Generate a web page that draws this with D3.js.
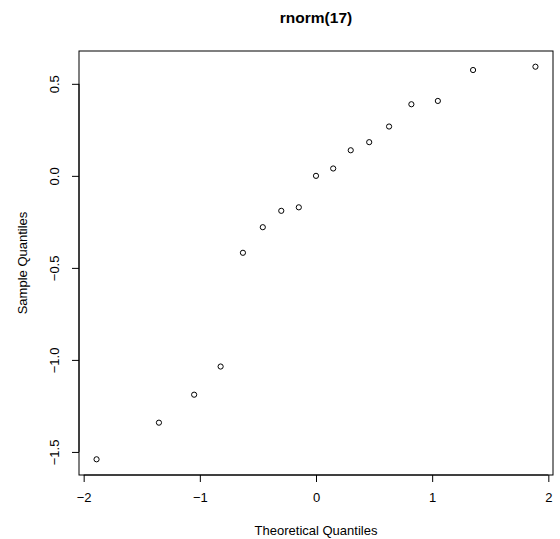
<!DOCTYPE html>
<html>
<head>
<meta charset="utf-8">
<script src="https://cdn.jsdelivr.net/npm/d3@7"></script>
<style>
  body { margin: 0; background: #fff; }
  text { font-family: "Liberation Sans", Arial, sans-serif; fill: #000; }
</style>
</head>
<body>
<div id="chart"></div>
<script>
// theoretical quantiles (x) and sorted sample values (y)
var theoretical = [-1.889, -1.352, -1.049, -0.821, -0.629, -0.458, -0.299, -0.148, 0,
                   0.148, 0.299, 0.458, 0.629, 0.821, 1.049, 1.352, 1.889];
var sample = [-1.540, -1.341, -1.189, -1.036, -0.418, -0.279, -0.190, -0.171, 0.000,
              0.040, 0.139, 0.183, 0.268, 0.389, 0.407, 0.575, 0.593];
var xTicks = [-2, -1, 0, 1, 2];
var yTicks = [-1.5, -1.0, -0.5, 0.0, 0.5];

var svgWidth = 560;
var svgHeight = 539;

var margin = {top: 51, right: 7, bottom: 64, left: 79};

var width = svgWidth - margin.left - margin.right;
var height = svgHeight - margin.top - margin.bottom;

var svg = d3.select("#chart")
  .append("svg")
  .attr("width", svgWidth)
  .attr("height", svgHeight);

var chartGroup = svg.append("g")
  .attr("transform", `translate(${margin.left}, ${margin.top})`);

// R style 4% extension of the data range
function extendRange(vals) {
  var lo = d3.min(vals), hi = d3.max(vals);
  var pad = (hi - lo) * 0.04;
  return [lo - pad, hi + pad];
}

var xScale = d3.scaleLinear()
  .domain(extendRange(theoretical))
  .range([0, width]);

var yScale = d3.scaleLinear()
  .domain(extendRange(sample))
  .range([height, 0]);

// axes
var bottomAxis = d3.axisBottom(xScale)
  .tickValues(xTicks)
  .tickSize(7)
  .tickPadding(11)
  .tickFormat(d => d < 0 ? "\u2212" + Math.abs(d) : d);

var leftAxis = d3.axisLeft(yScale)
  .tickValues(yTicks)
  .tickSize(7)
  .tickFormat(d => (d < 0 ? "\u2212" : "") + Math.abs(d).toFixed(1));

var xAxis = chartGroup.append("g")
  .attr("transform", `translate(0, ${height})`)
  .call(bottomAxis);

xAxis.select(".domain")
  .attr("d", `M${xScale(xTicks[0])},0H${xScale(xTicks[xTicks.length - 1])}`);

var yAxis = chartGroup.append("g")
  .call(leftAxis);

yAxis.select(".domain")
  .attr("d", `M0,${yScale(yTicks[0])}V${yScale(yTicks[yTicks.length - 1])}`);

chartGroup.selectAll(".tick line").attr("stroke", "#000");
chartGroup.selectAll(".tick text")
  .attr("font-size", "13px")
  .attr("font-family", "Liberation Sans, Arial, sans-serif");

// rotate the y tick labels like R does (las = 0)
yAxis.selectAll(".tick text")
  .attr("text-anchor", "middle")
  .attr("x", 0)
  .attr("dy", 0)
  .attr("transform", "translate(-20, 0) rotate(-90)")
  .attr("dominant-baseline", "auto");

// plot box
chartGroup.append("rect")
  .attr("x", 0)
  .attr("y", 0)
  .attr("width", width)
  .attr("height", height)
  .attr("fill", "none")
  .attr("stroke", "#000")
  .attr("stroke-width", 1);

// points
chartGroup.selectAll("circle.pt")
  .data(theoretical)
  .enter()
  .append("circle")
  .classed("pt", true)
  .attr("cx", d => xScale(d))
  .attr("cy", (d, i) => yScale(sample[i]))
  .attr("r", 2.6)
  .attr("fill", "none")
  .attr("stroke", "#000")
  .attr("stroke-width", 1);

// titles
svg.append("text")
  .attr("x", margin.left + width / 2)
  .attr("y", 23)
  .attr("text-anchor", "middle")
  .attr("font-weight", "bold")
  .attr("font-size", "15.5px")
  .text("rnorm(17)");

svg.append("text")
  .attr("x", margin.left + width / 2)
  .attr("y", 535)
  .attr("text-anchor", "middle")
  .attr("font-size", "13px")
  .text("Theoretical Quantiles");

svg.append("text")
  .attr("transform", `translate(27, ${margin.top + height / 2}) rotate(-90)`)
  .attr("text-anchor", "middle")
  .attr("font-size", "13px")
  .text("Sample Quantiles");
</script>
</body>
</html>
